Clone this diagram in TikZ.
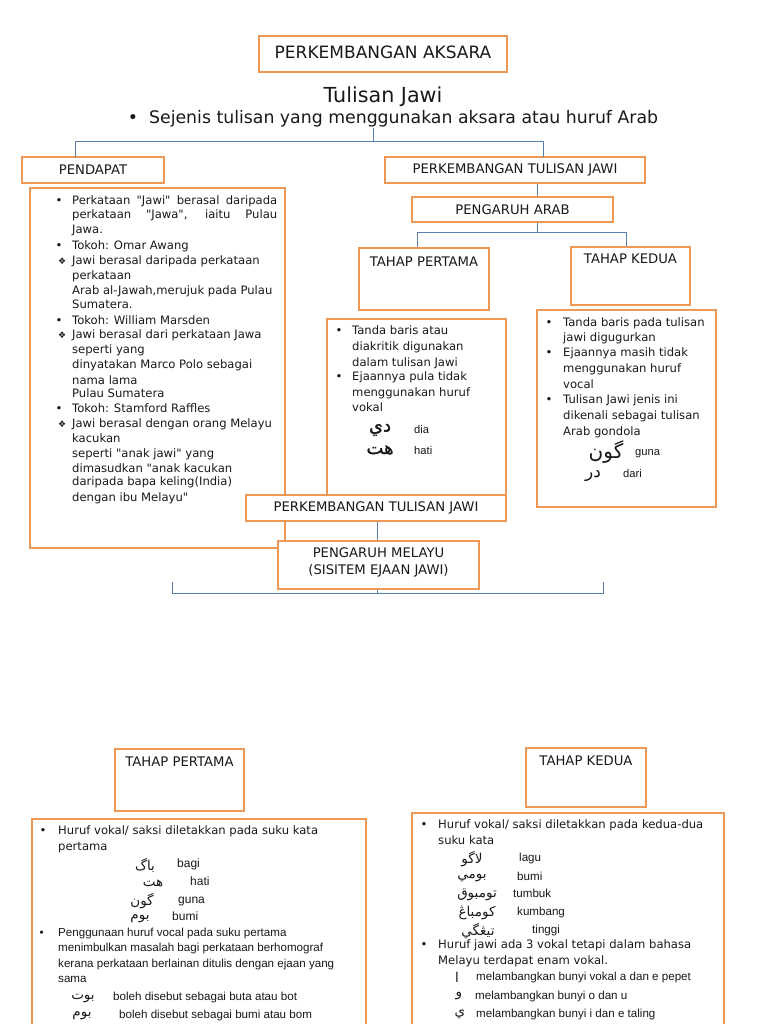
\documentclass[tikz,border=0pt]{standalone}
\usepackage{fontspec}
\setmainfont{DejaVu Sans}[Ligatures=TeXOff]
\newfontfamily\lib{Liberation Sans}
\newfontfamily\arabicfont[Script=Arabic]{DejaVu Sans}
\newfontfamily\arabicbf[Script=Arabic,FakeBold=1.2]{DejaVu Sans}
\TeXXeTstate=1
\definecolor{ob}{RGB}{238,152,88}
\definecolor{bl}{RGB}{88,128,172}
\definecolor{tx}{RGB}{25,25,25}
\tikzset{
  obox/.style={draw=ob, line width=2.3pt, fill=white, inner sep=0pt},
  conn/.style={draw=bl, line width=1pt},
  lbl/.style={font=\fontsize{13.2}{16}\selectfont, text=tx, inner sep=0pt},
  txt/.style={font=\fontsize{11.6}{14}\selectfont, text=tx, inner sep=0pt, anchor=west, text height=8pt, text depth=1.5pt},
  dia/.style={txt, font=\fontsize{9}{10}\selectfont},
  atxt/.style={font=\lib\fontsize{11.6}{14}\selectfont, text=tx, inner sep=0pt, anchor=west, text height=8pt, text depth=1.5pt},
  wtxt/.style={font=\lib\fontsize{11.2}{14}\selectfont, text=tx, inner sep=0pt, anchor=west, text height=8pt, text depth=1.5pt},
  arb/.style={font=\arabicbf\fontsize{18}{20}\selectfont, text=tx, inner sep=0pt},
  ars/.style={font=\arabicfont\fontsize{13.5}{16}\selectfont, text=tx, inner sep=0pt},
}
\begin{document}
\begin{tikzpicture}[x=1pt,y=-1pt]
\useasboundingbox (0,0) rectangle (768,1024);
\fill[white] (0,0) rectangle (768,1024);

% ---- top ----
\node[obox, minimum width=248pt, minimum height=36pt] (aks) at (383,54) {};
\node[lbl, font=\fontsize{17}{20}\selectfont] (aksT) at (383,52) {PERKEMBANGAN AKSARA};
\node[inner sep=0pt, text=tx, font=\fontsize{20.7}{24}\selectfont, anchor=base] (title) at (383,103) {Tulisan Jawi};
\node[inner sep=0pt, text=tx, font=\fontsize{17.3}{20}\selectfont, anchor=base] (sub) at (393,124) {\textbullet\ \ Sejenis tulisan yang menggunakan aksara atau huruf Arab};

\node[obox, minimum width=142pt, minimum height=26pt] (pend) at (93,170) {};
\node[lbl] (pendT) at (93,170) {PENDAPAT};
\node[obox, minimum width=260pt, minimum height=26pt] (ptj) at (515,170) {};
\node[lbl] (ptjT) at (515,170) {PERKEMBANGAN TULISAN JAWI};
\node[obox, minimum width=201pt, minimum height=25pt] (parab) at (512.5,209.5) {};
\node[lbl] (parabT) at (512.5,209.5) {PENGARUH ARAB};

\coordinate (tj) at (373,128);
\coordinate (tsplit) at (373,142);
\coordinate (pendIn) at (75,157);
\coordinate (ptjIn) at (543,157);
\draw[conn] (tj) -- (tsplit);
\draw[conn] (tsplit) -| (pendIn);
\draw[conn] (tsplit) -| (ptjIn);
\draw[conn] (ptj.south -| 537,0) -- (parab.north -| 537,0);
\coordinate (asplit) at (537,233);
\coordinate (tp1In) at (417,248);
\coordinate (tk1In) at (626,247);
\draw[conn] (parab.south -| asplit) -- (asplit);
\draw[conn] (asplit) -| (tp1In);
\draw[conn] (asplit) -| (tk1In);

\node[obox, minimum width=130pt, minimum height=62pt] (tp1) at (424,279) {};
\node[lbl] (tp1T) at (424,262) {TAHAP PERTAMA};
\node[obox, minimum width=119pt, minimum height=58pt] (tk1) at (630.5,276) {};
\node[lbl] (tk1T) at (630.5,259) {TAHAP KEDUA};

% ---- left box ----
\node[obox, minimum width=255pt, minimum height=360pt] (lbox) at (157.5,368) {};
\node[txt] (l1) at (72,201) {\makebox[205pt][s]{Perkataan "Jawi" berasal daripada}};
\node[txt] (b1) at (55.5,201) {\textbullet};
\node[txt] (l2) at (72,215.5) {\makebox[205pt][s]{perkataan "Jawa", iaitu Pulau}};
\node[txt] (l3) at (72,230) {Jawa.};
\node[txt] (b4) at (55.5,246.5) {\textbullet};
\node[txt] (l4) at (72,246.5) {Tokoh: Omar Awang};
\node[dia] (d5) at (58,261.5) {❖};
\node[txt] (l5) at (72,261.5) {Jawi berasal daripada perkataan};
\node[txt] (l6) at (72,276.5) {perkataan};
\node[txt] (l7) at (72,291.5) {Arab al-Jawah,merujuk pada Pulau};
\node[txt] (l8) at (72,305.5) {Sumatera.};
\node[txt] (b9) at (55.5,321.5) {\textbullet};
\node[txt] (l9) at (72,321.5) {Tokoh: William Marsden};
\node[dia] (d10) at (58,335.5) {❖};
\node[txt] (l10) at (72,335.5) {Jawi berasal dari perkataan Jawa};
\node[txt] (l11) at (72,350.5) {seperti yang};
\node[txt] (l12) at (72,365) {dinyatakan Marco Polo sebagai};
\node[txt] (l13) at (72,381) {nama lama};
\node[txt] (l14) at (72,394.5) {Pulau Sumatera};
\node[txt] (b15) at (55.5,409) {\textbullet};
\node[txt] (l15) at (72,409) {Tokoh: Stamford Raffles};
\node[dia] (d16) at (58,424) {❖};
\node[txt] (l16) at (72,424) {Jawi berasal dengan orang Melayu};
\node[txt] (l17) at (72,439) {kacukan};
\node[txt] (l18) at (72,454) {seperti "anak jawi" yang};
\node[txt] (l19) at (72,469) {dimasudkan "anak kacukan};
\node[txt] (l20) at (72,482.5) {daripada bapa keling(India)};
\node[txt] (l21) at (72,498) {dengan ibu Melayu"};

% ---- middle box ----
\node[obox, minimum width=179pt, minimum height=181pt] (mbox) at (416.5,409.5) {};
\node[txt] (mb1) at (335.5,331) {\textbullet};
\node[txt] (m1) at (352,331) {Tanda baris atau};
\node[txt] (m2) at (352,347) {diakritik digunakan};
\node[txt] (m3) at (352,363) {dalam tulisan Jawi};
\node[txt] (mb4) at (335.5,377.5) {\textbullet};
\node[txt] (m4) at (352,377.5) {Ejaannya pula tidak};
\node[txt] (m5) at (352,393) {menggunakan huruf};
\node[txt] (m6) at (352,408) {vokal};
\node[arb] (ma1) at (380,430) {\beginR دي\endR};
\node[wtxt] (mw1) at (414,430.5) {dia};
\node[arb] (ma2) at (380,450) {\beginR هت\endR};
\node[wtxt] (mw2) at (414,451) {hati};

% ---- right box ----
\node[obox, minimum width=179pt, minimum height=197pt] (rbox) at (626.5,408.5) {};
\node[txt] (rb1) at (545.5,323) {\textbullet};
\node[txt] (r1) at (563,323) {Tanda baris pada tulisan};
\node[txt] (r2) at (563,338.5) {jawi digugurkan};
\node[txt] (rb3) at (545.5,353.5) {\textbullet};
\node[txt] (r3) at (563,353.5) {Ejaannya masih tidak};
\node[txt] (r4) at (563,369) {menggunakan huruf};
\node[txt] (r5) at (563,385) {vocal};
\node[txt] (rb6) at (545.5,400) {\textbullet};
\node[txt] (r6) at (563,400) {Tulisan Jawi jenis ini};
\node[txt] (r7) at (563,416) {dikenali sebagai tulisan};
\node[txt] (r8) at (563,432) {Arab gondola};
\node[arb, font=\arabicfont\fontsize{20}{22}\selectfont] (ra1) at (606,452) {\beginR گون\endR};
\node[wtxt] (rw1) at (635,452) {guna};
\node[arb, font=\arabicfont\fontsize{17}{20}\selectfont] (ra2) at (593,476) {\beginR در\endR};
\node[wtxt] (rw2) at (623,474) {dari};

% ---- lower middle ----
\node[obox, minimum width=260pt, minimum height=26pt] (ptj2) at (376,508) {};
\node[lbl] (ptj2T) at (376,508) {PERKEMBANGAN TULISAN JAWI};
\node[obox, minimum width=201pt, minimum height=48pt] (pm) at (378.5,565) {};
\node[lbl, align=center] (pmT) at (378.5,562) {PENGARUH MELAYU\\[1pt](SISITEM EJAAN JAWI)};
\draw[conn] (ptj2.south -| 377,0) -- (pm.north -| 377,0);
\coordinate (brl) at (172,582);
\coordinate (brr) at (603,582);
\coordinate (brm) at (377,593);
\draw[conn] (pm.south -| brm) -- (brm);
\draw[conn] (brl) -- (brl |- brm) -- (brr |- brm) -- (brr);

% ---- bottom left ----
\node[obox, minimum width=129pt, minimum height=62pt] (tp2) at (179.5,780) {};
\node[lbl] (tp2T) at (179.5,762) {TAHAP PERTAMA};
\node[obox, minimum width=334pt, minimum height=240pt] (lbox2) at (199,939) {};
\node[txt] (bb1) at (39.5,831) {\textbullet};
\node[txt] (bl1) at (58,831) {Huruf vokal/ saksi diletakkan pada suku kata};
\node[txt] (bl2) at (58,847) {pertama};
\node[ars] (ba1) at (145,865) {\beginR باگ\endR};
\node[atxt, font=\lib\fontsize{12}{14}\selectfont] (bw1) at (177,864) {bagi};
\node[ars] (ba2) at (153,883) {\beginR هت\endR};
\node[atxt, font=\lib\fontsize{12}{14}\selectfont] (bw2) at (190,882) {hati};
\node[ars] (ba3) at (142,901) {\beginR گون\endR};
\node[atxt, font=\lib\fontsize{12}{14}\selectfont] (bw3) at (178,900) {guna};
\node[ars] (ba4) at (140,919) {\beginR بوم\endR};
\node[atxt, font=\lib\fontsize{12}{14}\selectfont] (bw4) at (172,917) {bumi};
\node[atxt] (bb3) at (39.5,933) {\textbullet};
\node[atxt] (bl3) at (58,933) {Penggunaan huruf vocal pada suku pertama};
\node[atxt] (bl4) at (58,948) {menimbulkan masalah bagi perkataan berhomograf};
\node[atxt] (bl5) at (58,964) {kerana perkataan berlainan ditulis dengan ejaan yang};
\node[atxt] (bl6) at (58,979) {sama};
\node[ars] (ba5) at (83,998) {\beginR بوت\endR};
\node[atxt] (bl7) at (113,997) {boleh disebut sebagai buta atau bot};
\node[ars] (ba6) at (82,1016) {\beginR بوم\endR};
\node[atxt] (bl8) at (119,1015) {boleh disebut sebagai bumi atau bom};

% ---- bottom right ----
\node[obox, minimum width=120pt, minimum height=59pt] (tk2) at (586,777.5) {};
\node[lbl] (tk2T) at (586,761) {TAHAP KEDUA};
\node[obox, minimum width=312pt, minimum height=240pt] (rbox2) at (568,933) {};
\node[txt] (rbb1) at (420.5,825) {\textbullet};
\node[txt] (br1) at (438,825) {Huruf vokal/ saksi diletakkan pada kedua-dua};
\node[txt] (br2) at (438,841) {suku kata};
\node[ars] (bra1) at (472,859) {\beginR لاگو\endR};
\node[atxt] (brw1) at (519,858) {lagu};
\node[ars] (bra2) at (472,878) {\beginR بومي\endR};
\node[atxt] (brw2) at (517,877) {bumi};
\node[ars] (bra3) at (477,895) {\beginR تومبوق\endR};
\node[atxt] (brw3) at (513,894) {tumbuk};
\node[ars] (bra4) at (477,913) {\beginR كومباڠ\endR};
\node[atxt] (brw4) at (517,912) {kumbang};
\node[ars] (bra5) at (478,931) {\beginR تيڠگي\endR};
\node[atxt] (brw5) at (532,930) {tinggi};
\node[txt] (rbb3) at (420.5,945) {\textbullet};
\node[txt] (br3) at (438,945) {Huruf jawi ada 3 vokal tetapi dalam bahasa};
\node[txt] (br4) at (438,961) {Melayu terdapat enam vokal.};
\node[ars] (bra6) at (457,977) {\beginR ا\endR};
\node[atxt] (brw6) at (476,977) {melambangkan bunyi vokal a dan e pepet};
\node[ars] (bra7) at (459,996) {\beginR و\endR};
\node[atxt] (brw7) at (475,996) {melambangkan bunyi o dan u};
\node[ars] (bra8) at (460,1014) {\beginR ي\endR};
\node[atxt] (brw8) at (476,1014) {melambangkan bunyi i dan e taling};
\end{tikzpicture}
\end{document}
